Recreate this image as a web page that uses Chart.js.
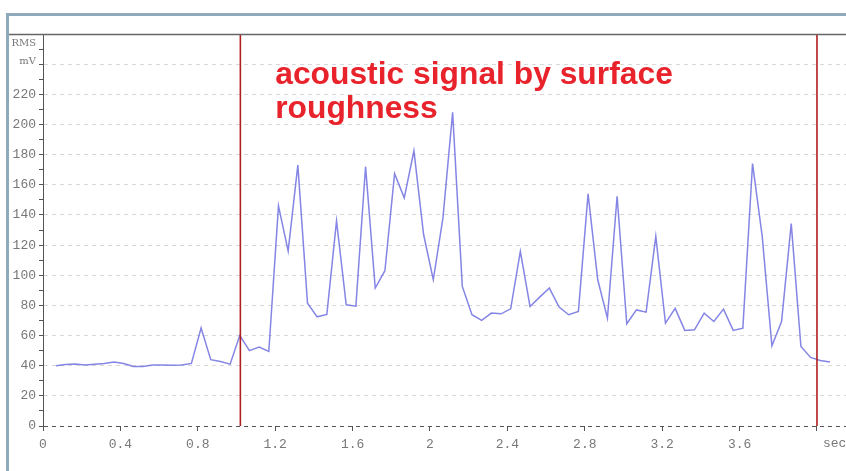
<!DOCTYPE html>
<html><head><meta charset="utf-8">
<script src="https://cdn.jsdelivr.net/npm/chart.js@4.4.1/dist/chart.umd.min.js"></script>
<style>
html,body{margin:0;padding:0;background:#fff;}
#wrap{position:relative;width:846px;height:471px;overflow:hidden;}
#frame{position:absolute;left:6px;top:13px;width:900px;height:500px;border-left:3px solid #8eaabb;border-top:3px solid #8eaabb;box-sizing:border-box;}
canvas{position:absolute;left:0;top:0;}
</style></head><body>
<div id="wrap"><div id="frame"></div><canvas id="c" width="846" height="471"></canvas></div>
<script>
// sample times (sec)
const times = [
  0.067,0.117,0.167,0.217,0.267,0.317,0.367,0.417,0.467,0.517,
  0.567,0.617,0.667,0.717,0.767,0.817,0.867,0.917,0.967,1.017,
  1.067,1.117,1.167,1.217,1.267,1.317,1.367,1.417,1.467,1.517,
  1.567,1.617,1.667,1.717,1.767,1.817,1.867,1.917,1.967,2.017,
  2.067,2.117,2.167,2.217,2.267,2.317,2.367,2.417,2.467,2.517,
  2.567,2.617,2.667,2.717,2.767,2.817,2.867,2.917,2.967,3.017,
  3.067,3.117,3.167,3.217,3.267,3.317,3.367,3.417,3.467,3.517,
  3.567,3.617,3.667,3.717,3.767,3.817,3.867,3.917,3.967,4.017,
  4.067
];
// RMS (mV)
const rmsMv = [
  40,40.8,41.2,40.5,41,41.5,42.5,41.5,39.5,39.5,
  40.5,40.5,40.3,40.5,41.5,65,44,42.8,41,60,
  50,52.3,49.5,146,116,173,81.5,72.4,74,136,
  80.4,79.5,172,91.5,103,167.4,151.3,182.5,127,97,
  138,208,92.6,73.8,70,74.9,74.4,77.7,115.8,79.3,
  85.5,91.5,78.9,73.8,76,154,97,71.5,152.4,67.8,
  77,75.5,125.8,68.2,78,63.4,63.8,74.9,69.3,77.5,
  63.4,64.9,174,125.8,53.2,69.3,134.2,52.7,45.5,43.5,
  42.5
];
const markerTimes = [1.02, 4.0];
const xTickValues = [0,0.4,0.8,1.2,1.6,2,2.4,2.8,3.2,3.6,4.0];
const xUnit = 'sec';
const yUnitLines = ['RMS','mV'];
const annotationLines = ['acoustic signal by surface','roughness'];

const signal = times.map((t,i)=>({x:t,y:rmsMv[i]}));
const markerSets = markerTimes.map(t=>({
  data:[{x:t,y:0},{x:t,y:260}],
  borderColor:'#b01e1e', borderWidth:1.6, pointRadius:0, order:0
}));

const decor = {
  id:'decor',
  afterDraw(chart){
    const {ctx, chartArea:a, scales:{x,y}} = chart;
    ctx.save();
    ctx.strokeStyle='#666'; ctx.lineWidth=1.5;
    ctx.beginPath(); ctx.moveTo(9,a.top+0.5); ctx.lineTo(chart.width,a.top+0.5); ctx.stroke();
    ctx.fillStyle='#777'; ctx.font='10px "DejaVu Serif"'; ctx.textAlign='right'; ctx.textBaseline='middle';
    ctx.fillText(yUnitLines[0], a.left-7, y.getPixelForValue(253.5));
    ctx.fillText(yUnitLines[1], a.left-7, y.getPixelForValue(242));
    ctx.font='13px "Liberation Mono"'; ctx.textAlign='left'; ctx.textBaseline='middle';
    ctx.fillText(xUnit, x.getPixelForValue(4)+6, a.bottom+18);
    ctx.fillStyle='#e8232b'; ctx.font='bold 31.8px "Liberation Sans"'; ctx.textBaseline='alphabetic';
    ctx.fillText(annotationLines[0], x.getPixelForValue(1.2), y.getPixelForValue(227));
    ctx.fillText(annotationLines[1], x.getPixelForValue(1.2), y.getPixelForValue(204));
    ctx.restore();
  }
};

new Chart(document.getElementById('c'), {
  type:'line',
  data:{datasets:[
    ...markerSets,
    {data:signal, borderColor:'rgba(112,112,225,0.85)', borderWidth:1.5, pointRadius:0, tension:0, order:1}
  ]},
  options:{
    responsive:false, animation:false,
    layout:{padding:{top:34,left:0,right:0,bottom:0}},
    plugins:{legend:{display:false}, tooltip:{enabled:false}},
    scales:{
      x:{type:'linear', min:0, max:4.15,
        afterBuildTicks:s=>{s.ticks=xTickValues.map(v=>({value:v}));},
        afterFit:s=>{s.height=45;},
        ticks:{autoSkip:false, maxRotation:0, padding:6, color:'#777',
          font:{family:'Liberation Mono', size:13},
          callback:v=> v>=3.99 ? '' : String(+(+v).toFixed(1))},
        grid:{drawOnChartArea:false, drawTicks:true, tickLength:5, tickColor:'#555'},
        border:{display:false}
      },
      y:{type:'linear', min:0, max:260,
        afterFit:s=>{s.width=43;},
        ticks:{stepSize:10, autoSkip:false, padding:3, color:'#777',
          font:{family:'Liberation Mono', size:13},
          callback:v=> (v%20===0 && v<=220) ? String(v) : ''},
        grid:{drawTicks:true, tickLength:4, tickColor:'#555', lineWidth:1,
          color:c=>{const v=c.tick.value; if(v===0) return '#555'; if(v%20===0 && v<=240) return '#d8d8d8'; return 'rgba(0,0,0,0)';}},
        border:{display:true, color:'#555', width:1, dash:[4,4]}
      }
    }
  },
  plugins:[decor]
});
</script>
</body></html>
